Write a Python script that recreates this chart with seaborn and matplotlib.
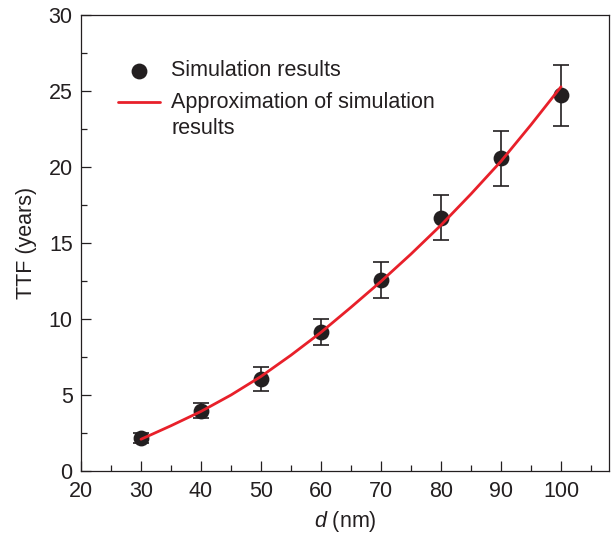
import matplotlib
matplotlib.use("Agg")
import matplotlib.pyplot as plt
import seaborn as sns
import pandas as pd
from matplotlib.ticker import MultipleLocator
from matplotlib.legend_handler import HandlerLine2D
from matplotlib.lines import Line2D

# Simulation results (points with error bars)
d_sim = [30, 40, 50, 60, 70, 80, 90, 100]
ttf_sim = [2.2, 4.0, 6.1, 9.2, 12.6, 16.7, 20.6, 24.75]
ttf_err = [0.35, 0.5, 0.8, 0.85, 1.2, 1.5, 1.8, 2.0]

# Approximation curve
d_fit = [30, 35, 40, 45, 50, 55, 60, 65, 70, 75, 80, 85, 90, 95, 100]
ttf_fit = [2.12, 3.01, 3.95, 5.03, 6.25, 7.65, 9.15, 10.8, 12.5, 14.3, 16.2, 18.25, 20.4, 22.8, 25.3]

x_ticks = [20, 30, 40, 50, 60, 70, 80, 90, 100]
y_ticks = [0, 5, 10, 15, 20, 25, 30]

sns.set_style("ticks")
plt.rcParams['font.family'] = ['Liberation Sans', 'DejaVu Sans']
plt.rcParams['mathtext.fontset'] = 'custom'
plt.rcParams['mathtext.it'] = 'Liberation Sans:italic'
plt.rcParams['mathtext.rm'] = 'Liberation Sans'

ink = "#231f20"
red = "#e8202a"
FS = 15.5
LS = 1.3


class FirstLineHandler(HandlerLine2D):
    """Place the line handle level with the first line of a two-line label."""
    def __init__(self, dy, **kw):
        super().__init__(**kw)
        self.dy = dy

    def create_artists(self, legend, orig_handle, xdescent, ydescent,
                       width, height, fontsize, trans):
        arts = super().create_artists(legend, orig_handle, xdescent, ydescent,
                                      width, height, fontsize, trans)
        for a in arts:
            if isinstance(a, Line2D):
                a.set_ydata([v + self.dy for v in a.get_ydata()])
        return arts


fig = plt.figure(figsize=(6.11, 5.33), dpi=100)
ax = fig.add_axes([0.1326, 0.1154, 0.8641, 0.8559])

df_sim = pd.DataFrame({"d": d_sim, "ttf": ttf_sim, "err": ttf_err})
df_fit = pd.DataFrame({"d": d_fit, "ttf": ttf_fit})

ax.errorbar(df_sim["d"], df_sim["ttf"], yerr=df_sim["err"], fmt="none",
            ecolor=ink, elinewidth=1.2, capsize=6, capthick=1.2, zorder=2)
sns.scatterplot(data=df_sim, x="d", y="ttf", ax=ax, s=130, color=ink,
                edgecolor=ink, linewidth=0, zorder=3, label="Simulation results")
sns.lineplot(data=df_fit, x="d", y="ttf", ax=ax, color=red, linewidth=2.0,
             zorder=4, label="Approximation of simulation\nresults")

ax.set_xlim(20, 108)
ax.set_ylim(0, 30)
ax.set_xticks(x_ticks)
ax.set_yticks(y_ticks)
ax.xaxis.set_minor_locator(MultipleLocator(5))
ax.yaxis.set_minor_locator(MultipleLocator(2.5))
ax.tick_params(which="major", direction="in", length=7, width=0.9, color=ink,
               labelsize=FS, labelcolor=ink)
ax.tick_params(axis="x", which="major", pad=7)
ax.tick_params(axis="y", which="major", pad=6)
ax.tick_params(which="minor", direction="in", length=4.5, width=0.9, color=ink)
ax.tick_params(top=False, right=False, which="both")
for sp in ax.spines.values():
    sp.set_linewidth(0.9)
    sp.set_color(ink)
    sp.set_visible(True)

ax.set_xlabel(r"$\mathit{d}$ (nm)", fontsize=FS, color=ink, labelpad=5)
ax.set_ylabel("TTF (years)", fontsize=FS, color=ink, labelpad=8)

handles, labels = ax.get_legend_handles_labels()
line_handle = [h for h in handles if isinstance(h, Line2D)][0]
leg = ax.legend(handles, labels, loc="upper left", bbox_to_anchor=(0.053, 0.92),
                frameon=False, fontsize=FS, handlelength=1.95, handletextpad=0.55,
                labelspacing=0.5, borderaxespad=0,
                handler_map={line_handle: FirstLineHandler(dy=0.5 * FS * LS)})
for t in leg.get_texts():
    t.set_color(ink)
    t.set_linespacing(LS)

fig.savefig("out.png", dpi=100)
